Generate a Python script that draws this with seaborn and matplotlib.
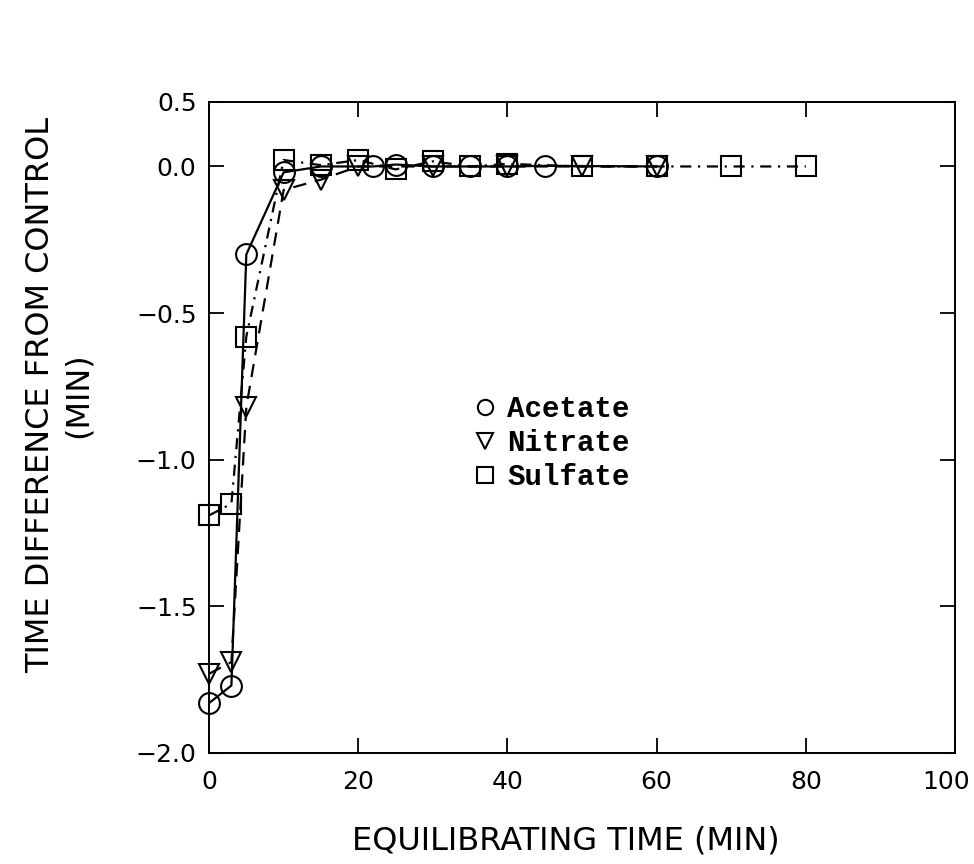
import numpy as np
import pandas as pd
import matplotlib
matplotlib.use("Agg")
import matplotlib.pyplot as plt
import matplotlib.transforms as mtransforms
from matplotlib.lines import Line2D
import seaborn as sns

# data
acetate_t = [0, 3, 5, 10, 15, 22, 25, 30, 35, 40, 45, 60]
acetate_d = [-1.83, -1.77, -0.30, -0.02, 0.0, 0.0, 0.015, 0.0, 0.0, 0.0, 0.005, 0.0]
nitrate_t = [0, 3, 5, 10, 15, 20, 30, 40, 50, 60]
nitrate_d = [-1.73, -1.69, -0.82, -0.08, -0.045, 0.0, 0.0, 0.0, 0.0, 0.0]
sulfate_t = [0, 3, 5, 10, 15, 20, 25, 30, 35, 40, 50, 60, 70, 80]
sulfate_d = [-1.19, -1.15, -0.58, 0.05, 0.01, 0.05, -0.01, 0.04, 0.0, 0.02, 0.0, 0.0, 0.0, 0.0]
anions = ["Acetate", "Nitrate", "Sulfate"]
x_ticks = [0, 20, 40, 60, 80, 100]
y_ticks = [-2.0, -1.5, -1.0, -0.5, 0.0, 0.5]

df = pd.concat([
    pd.DataFrame({"time": acetate_t, "diff": acetate_d, "anion": "Acetate"}),
    pd.DataFrame({"time": nitrate_t, "diff": nitrate_d, "anion": "Nitrate"}),
    pd.DataFrame({"time": sulfate_t, "diff": sulfate_d, "anion": "Sulfate"}),
])

sns.set_style("ticks")
plt.rcParams["font.family"] = ["DejaVu Sans"]
plt.rcParams["axes.linewidth"] = 1.4
plt.rcParams["xtick.direction"] = "in"
plt.rcParams["ytick.direction"] = "in"

fig = plt.figure(figsize=(9.74, 8.64), dpi=100)
ax = fig.add_axes([0.2146, 0.1285, 0.766, 0.7535])

# the upper half unit (0 to 0.5) is compressed on the original axis
k = 0.44
def fwd(y):
    y = np.asarray(y, dtype=float)
    return np.where(y > 0, y * k, y)
def inv(y):
    y = np.asarray(y, dtype=float)
    return np.where(y > 0, y / k, y)
ax.set_yscale("function", functions=(fwd, inv))

markers = {"Acetate": "o", "Nitrate": "v", "Sulfate": "s"}
dashes = {"Acetate": "", "Nitrate": (6, 4), "Sulfate": (5, 3, 1, 3)}
sns.lineplot(data=df, x="time", y="diff", hue="anion", style="anion",
             hue_order=anions, style_order=anions,
             palette=["black"] * 3, markers=markers, dashes=dashes,
             estimator=None, markersize=15, mfc="none", mec="black",
             mew=1.5, lw=1.6, legend=False, ax=ax, clip_on=False)

ax.set_xlim(0, 100)
ax.set_ylim(-2.0, 0.5)
ax.set_xticks(x_ticks)
ax.set_yticks(y_ticks)
ax.set_yticklabels([f"{v:.1f}".replace("-", "\u2212") for v in y_ticks])
ax.tick_params(axis="both", which="both", top=True, right=True, length=11,
               width=1.3, labelsize=18, color="black", labelcolor="black")
ax.tick_params(axis="x", pad=12)
ax.tick_params(axis="y", pad=9)
for s in ax.spines.values():
    s.set_color("black")

# keep the "100" label inside the canvas
lbl = ax.get_xticklabels()[-1]
lbl.set_transform(lbl.get_transform() +
                  mtransforms.ScaledTranslation(-9 / 100, 0, fig.dpi_scale_trans))

ax.set_xlabel("EQUILIBRATING TIME (MIN)", fontsize=23, color="black")
ax.xaxis.set_label_coords(0.478, -0.111)
ax.set_ylabel("TIME DIFFERENCE FROM CONTROL\n(MIN)", fontsize=23,
              linespacing=1.25, color="black")
ax.yaxis.set_label_coords(-0.155, 0.55)

handles = [Line2D([], [], marker=markers[a], ls="none", mfc="none", mec="black",
                  mew=1.5, ms=11) for a in anions]
ax.legend(handles, anions, loc="upper left", bbox_to_anchor=(0.331, 0.572),
          frameon=False, borderpad=0, handlelength=1.0, handletextpad=0.25,
          labelspacing=0.2, labelcolor="black",
          prop={"family": "Liberation Mono", "weight": "bold", "size": 21})

fig.savefig("out.png", dpi=100)
